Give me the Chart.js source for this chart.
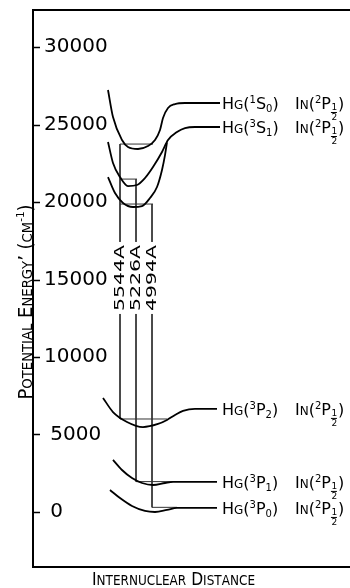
<!DOCTYPE html>
<html>
<head>
<meta charset="utf-8">
<script src="https://cdn.jsdelivr.net/npm/chart.js@4/dist/chart.umd.min.js"></script>
<style>
  html, body { margin: 0; padding: 0; background: #fff; }
  #wrap { width: 350px; height: 588px; }
</style>
</head>
<body>
<div id="wrap"><canvas id="myChart"></canvas></div>
<script>
// potential curves: x = internuclear distance (arbitrary units), y = energy in cm-1
const s0X = [75, 80, 89, 95, 105, 115, 122, 127, 130, 135, 142, 152, 187];
const s0Y = [27230, 25480, 24000, 23550, 23420, 23610, 24000, 24650, 25420, 26070, 26320, 26390, 26390];
const s1X = [75, 80, 87, 95, 104, 112, 120, 129, 135, 144, 152, 162, 187];
const s1Y = [23870, 22520, 21610, 21030, 21100, 21550, 22260, 23230, 24000, 24520, 24770, 24840, 24840];
const s1bX = [75, 82, 90, 100, 109, 117, 124, 129, 132, 134];
const s1bY = [21610, 20580, 19940, 19680, 19740, 20260, 20970, 22070, 23030, 23850];
const p2X = [70, 80, 94, 110, 125, 134, 142, 150, 162, 184];
const p2Y = [7360, 6450, 5810, 5480, 5680, 5940, 6260, 6520, 6650, 6650];
const p1X = [80, 89, 99, 109, 120, 132, 140, 155, 184];
const p1Y = [3360, 2710, 2190, 1870, 1740, 1870, 1940, 1940, 1940];
const p0X = [77, 87, 99, 112, 122, 134, 144, 184];
const p0Y = [1420, 900, 390, 70, 0, 130, 260, 260];

// band transitions
const lineNames = ['5544A', '5226A', '4994A'];
const lineX = [87, 103, 119];
const upperLevel = [23740, 21480, 19870];
const lowerLevel = [6000, 1960, 300];
const upperBarFrom = [87, 87, 87];
const upperBarTo = [120, 104, 120];
const lowerBarFrom = [87, 103, 119];
const lowerBarTo = [134, 140, 144];
const lineLabelY = 15100;

// separated atom states
const stateSup = ['1', '3', '3', '3', '3'];
const stateL = ['S', 'S', 'P', 'P', 'P'];
const stateSub = ['0', '1', '2', '1', '0'];
const stateLevel = [26390, 24840, 6650, 1940, 260];

const yTicks = [0, 5000, 10000, 15000, 20000, 25000, 30000];

const FONT = 'DejaVu Sans';

function pts(xs, ys) {
  return xs.map((x, i) => ({ x: x, y: ys[i] }));
}

function curve(xs, ys) {
  return {
    data: pts(xs, ys),
    borderColor: '#000',
    borderWidth: 1.8,
    pointRadius: 0,
    fill: false,
    cubicInterpolationMode: 'monotone'
  };
}

function thin(points) {
  return {
    data: points,
    borderColor: '#333',
    borderWidth: 1,
    pointRadius: 0,
    fill: false,
    tension: 0
  };
}

const datasets = [
  curve(s0X, s0Y), curve(s1X, s1Y), curve(s1bX, s1bY),
  curve(p2X, p2Y), curve(p1X, p1Y), curve(p0X, p0Y)
];
for (let i = 0; i < lineX.length; i++) {
  datasets.push(thin([{ x: lineX[i], y: upperLevel[i] }, { x: lineX[i], y: lowerLevel[i] }]));
  datasets.push(thin([{ x: upperBarFrom[i], y: upperLevel[i] }, { x: upperBarTo[i], y: upperLevel[i] }]));
  datasets.push(thin([{ x: lowerBarFrom[i], y: lowerLevel[i] }, { x: lowerBarTo[i], y: lowerLevel[i] }]));
}

// draw a list of text runs along a line, returns the advance
function runWidth(ctx, runs) {
  let w = 0;
  runs.forEach(r => {
    ctx.font = r.size + 'px ' + FONT;
    w += ctx.measureText(r.t).width + (r.gap || 0);
  });
  return w;
}
function drawRuns(ctx, x, y, runs) {
  runs.forEach(r => {
    ctx.font = r.size + 'px ' + FONT;
    ctx.fillText(r.t, x, y + (r.dy || 0));
    x += ctx.measureText(r.t).width + (r.gap || 0);
  });
  return x;
}
// small caps: capitals big, lower case letters as small capitals
function smallCaps(text, big, small) {
  const runs = [];
  for (const ch of text) {
    if (ch === '⁻' || ch === '¹') {
      runs.push({ t: ch === '⁻' ? '-' : '1', size: small - 3, dy: -small * 0.55 });
    } else if (ch !== ch.toUpperCase()) {
      runs.push({ t: ch.toUpperCase(), size: small });
    } else {
      runs.push({ t: ch, size: big });
    }
  }
  return runs;
}

const decor = {
  id: 'decor',
  afterDatasetsDraw(chart) {
    const { ctx, chartArea: a, scales: { x, y } } = chart;
    ctx.save();
    ctx.strokeStyle = '#000';
    ctx.fillStyle = '#000';

    // top of the frame
    ctx.lineWidth = 2;
    ctx.beginPath();
    ctx.moveTo(a.left, a.top);
    ctx.lineTo(a.right, a.top);
    ctx.stroke();

    // tick marks pointing into the plot
    ctx.lineWidth = 1.5;
    yTicks.forEach(v => {
      const py = Math.round(y.getPixelForValue(v)) + 0.5;
      ctx.beginPath();
      ctx.moveTo(a.left, py);
      ctx.lineTo(a.left + 7, py);
      ctx.stroke();
    });

    // wavelength labels, written upward across the transition lines
    ctx.font = '14px ' + FONT;
    ctx.textBaseline = 'middle';
    lineNames.forEach((name, i) => {
      const px = x.getPixelForValue(lineX[i]) - 1;
      const py = y.getPixelForValue(lineLabelY);
      const w = ctx.measureText(name).width;
      const L = 66;
      ctx.fillStyle = '#fff';
      ctx.fillRect(px - 6, py - L / 2 - 3, 12, L + 6);
      ctx.fillStyle = '#000';
      ctx.save();
      ctx.translate(px, py);
      ctx.rotate(-Math.PI / 2);
      ctx.scale(L / w, 1);
      ctx.fillText(name, -w / 2, 1);
      ctx.restore();
    });

    // state labels at the right
    ctx.textBaseline = 'alphabetic';
    stateLevel.forEach((lv, i) => {
      const by = y.getPixelForValue(lv) + 6;
      const hx = x.getPixelForValue(189);
      drawRuns(ctx, hx, by, [
        { t: 'H', size: 16 }, { t: 'G', size: 12 }, { t: '(', size: 16 },
        { t: stateSup[i], size: 10, dy: -6 }, { t: stateL[i], size: 16 },
        { t: stateSub[i], size: 10, dy: 3 }, { t: ')', size: 16 }
      ]);
      let ix = x.getPixelForValue(262);
      ix = drawRuns(ctx, ix, by, [
        { t: 'I', size: 16 }, { t: 'N', size: 12 }, { t: '(', size: 16 },
        { t: '2', size: 10, dy: -6 }, { t: 'P', size: 16 }
      ]);
      ctx.font = '9px ' + FONT;
      ctx.fillText('1', ix + 0.5, by + 1);
      ctx.lineWidth = 1;
      ctx.beginPath();
      ctx.moveTo(ix, by + 3.5);
      ctx.lineTo(ix + 6, by + 3.5);
      ctx.stroke();
      ctx.fillText('2', ix + 0.5, by + 11);
      ctx.font = '16px ' + FONT;
      ctx.fillText(')', ix + 7, by);
    });

    // axis titles in small capitals
    const xt = smallCaps('Internuclear Distance', 18, 14);
    const xw = runWidth(ctx, xt);
    const xs = 163 / xw;
    ctx.save();
    ctx.translate(x.getPixelForValue(140.5) - 163 / 2, 585);
    ctx.scale(xs, 1);
    drawRuns(ctx, 0, 0, xt);
    ctx.restore();

    const yt = smallCaps('Potential Energy’ (cm⁻¹)', 19, 14);
    const yw = runWidth(ctx, yt);
    const ys = 195 / yw;
    ctx.save();
    ctx.translate(32, 302 + 195 / 2);
    ctx.rotate(-Math.PI / 2);
    ctx.scale(ys, 1);
    drawRuns(ctx, 0, 0, yt);
    ctx.restore();

    ctx.restore();
  }
};

// the axes take no room: the frame is set by the layout padding alone
function noRoom(scale) {
  if (scale.isHorizontal()) scale.height = 0; else scale.width = 0;
  scale.paddingTop = 0;
  scale.paddingBottom = 0;
  scale.paddingLeft = 0;
  scale.paddingRight = 0;
}

const config = {
  type: 'line',
  data: { datasets: datasets },
  options: {
    responsive: true,
    maintainAspectRatio: false,
    animation: false,
    events: [],
    layout: { padding: { left: 33, top: 10, right: 0, bottom: 21 } },
    plugins: { legend: { display: false }, tooltip: { enabled: false } },
    scales: {
      x: {
        type: 'linear',
        min: 0,
        max: 317,
        afterFit: noRoom,
        ticks: { display: false },
        grid: { drawOnChartArea: false, drawTicks: false },
        border: { display: true, color: '#000', width: 2 }
      },
      y: {
        type: 'linear',
        min: -3550,
        max: 32390,
        afterFit: noRoom,
        afterBuildTicks: scale => { scale.ticks = yTicks.map(v => ({ value: v })); },
        ticks: {
          mirror: true,
          padding: 11,
          color: '#000',
          font: { family: FONT, size: 20 },
          callback: v => (v < 10000 ? ' ' + v : String(v))
        },
        grid: { drawOnChartArea: false, drawTicks: false },
        border: { display: true, color: '#000', width: 2 }
      }
    }
  },
  plugins: [decor]
};

const myChart = new Chart(document.getElementById('myChart'), config);
</script>
</body>
</html>
